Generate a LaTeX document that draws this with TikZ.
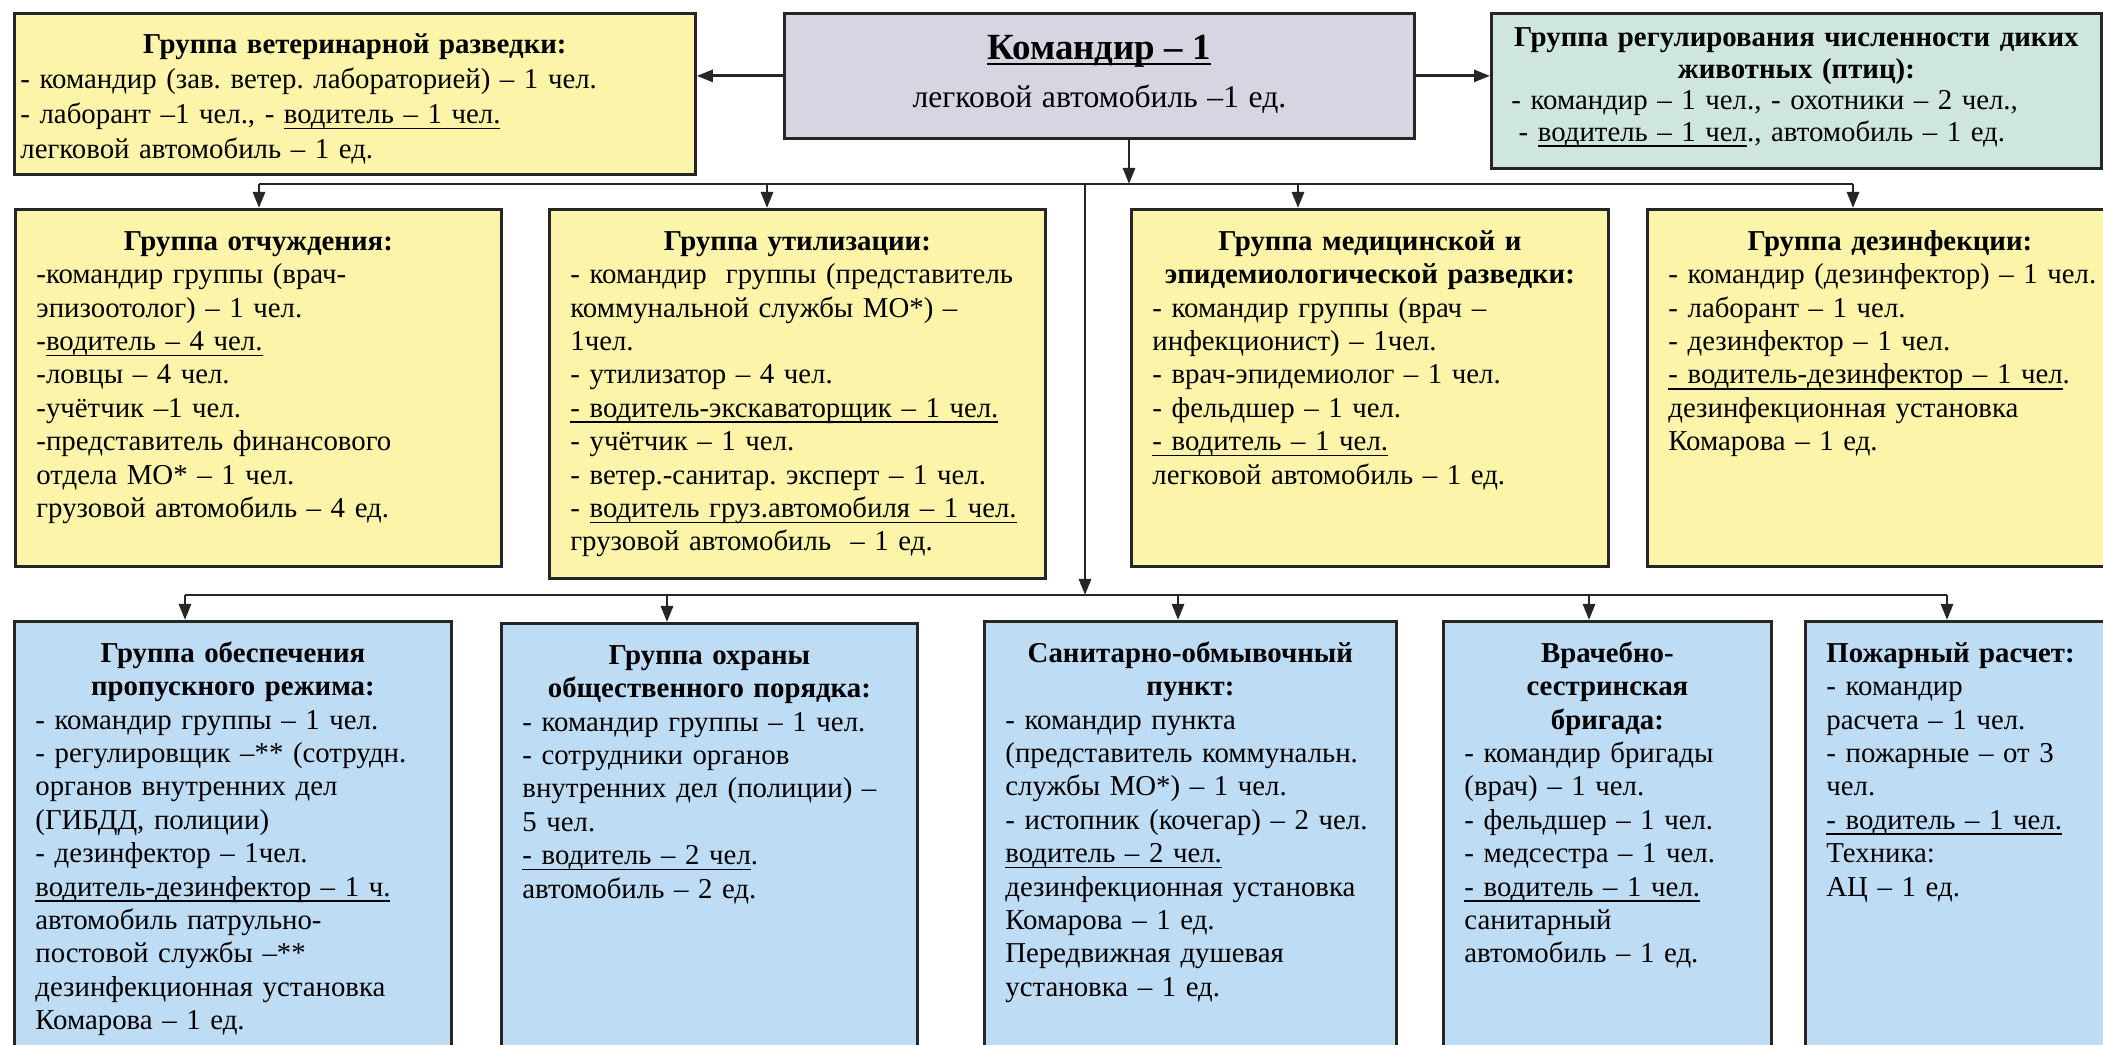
\documentclass[tikz,border=0pt]{standalone}
\usepackage{fontspec}
\setmainfont{Liberation Serif}
\usepackage{tikz}
\usetikzlibrary{arrows.meta,positioning}
\definecolor{grpyellow}{HTML}{FCF4A9}
\definecolor{grpblue}{HTML}{BEDCF4}
\definecolor{grpgray}{HTML}{D8D5E3}
\definecolor{grpgreen}{HTML}{CEE6DB}
\definecolor{grpline}{HTML}{262626}
\newcommand{\grptitle}[1]{{\centering\bfseries #1\par}}
\newcommand{\uln}[1]{\leavevmode\setbox0\hbox{#1}\rlap{\rule[-1.6pt]{\wd0}{0.45pt}}\box0}
\frenchspacing

\begin{document}
\begin{tikzpicture}[x=0.1mm,y=-0.1mm,
  grp/.style={rectangle,draw=grpline,line width=0.8pt,anchor=north west,
    inner xsep=2.1mm,inner ysep=0pt,text height=4.1mm,align=left,
    font=\fontsize{8.2}{9.5}\selectfont},
  yel/.style={grp,fill=grpyellow,text depth=31.6mm},
  blu/.style={grp,fill=grpblue,text depth=40mm},
  arr/.style={-{Triangle[length=1.6mm,width=1.2mm]},line width=0.8pt,color=grpline},
  bus/.style={line width=0.8pt,color=grpline}
]
  \useasboundingbox (0,0) rectangle (2103,1045);

  % top row
  \node[yel,inner xsep=0.6mm,text width=66.9mm,text height=4.0mm,text depth=12.1mm,
    font=\fontsize{8.2}{10}\selectfont] (vet) at (13,12) {\grptitle{Группа ветеринарной разведки:}
    - командир (зав. ветер. лабораторией) – 1 чел.\\
    - лаборант –1 чел., - \uln{водитель – 1 чел.}\\
    легковой автомобиль – 1 ед.};
  \node[grp,fill=grpgray,align=center,inner xsep=1mm,text width=61mm,
    text height=4.6mm,text depth=7.9mm] (cmd) at (783,12)
    {{\fontsize{10.5}{12}\selectfont\bfseries\uln{Командир – 1}}\\[1.5mm]
    {\fontsize{9}{10}\selectfont легковой автомобиль –1 ед.}};
  \node[grp,fill=grpgreen,inner xsep=2mm,text width=57mm,text height=3.3mm,
    text depth=12.2mm,font=\fontsize{8.2}{9}\selectfont] (wild) at (1490,12)
    {\grptitle{Группа регулирования численности диких\\животных (птиц):}
    - командир – 1 чел., - охотники – 2 чел.,\\
    \hspace*{0.25em}- \uln{водитель – 1 чел}., автомобиль – 1 ед.};

  % second row
  \node[yel,text width=44.4mm] (otch) at (14,208) {\grptitle{Группа отчуждения:}
    -командир группы (врач-\\
    эпизоотолог) – 1 чел.\\
    -\uln{водитель – 4 чел.}\\
    -ловцы – 4 чел.\\
    -учётчик –1 чел.\\
    -представитель финансового\\
    отдела МО* – 1 чел.\\
    грузовой автомобиль – 4 ед.};
  \node[yel,text width=45.4mm,text depth=32.8mm] (util) at (548,208) {\grptitle{Группа утилизации:}
    - командир\ \ группы (представитель\\
    коммунальной службы МО*) –\\
    1чел.\\
    - утилизатор – 4 чел.\\
    \uln{- водитель-экскаваторщик – 1 чел.}\\
    - учётчик – 1 чел.\\
    - ветер.-санитар. эксперт – 1 чел.\\
    - \uln{водитель груз.автомобиля – 1 чел.}\\
    грузовой автомобиль\ \ – 1 ед.};
  \node[yel,text width=43.5mm] (med) at (1130,208) {\grptitle{Группа медицинской и\\эпидемиологической разведки:}
    - командир группы (врач –\\
    инфекционист) – 1чел.\\
    - врач-эпидемиолог – 1 чел.\\
    - фельдшер – 1 чел.\\
    \uln{- водитель – 1 чел.}\\
    легковой автомобиль – 1 ед.};
  \node[yel,text width=44.3mm] (dis) at (1646,208) {\grptitle{Группа дезинфекции:}
    - командир (дезинфектор) – 1 чел.\\
    - лаборант – 1 чел.\\
    - дезинфектор – 1 чел.\\
    \uln{- водитель-дезинфектор – 1 чел}.\\
    дезинфекционная установка\\
    Комарова – 1 ед.};

  % third row
  \node[blu,text width=39.5mm] (prop) at (13,620) {\grptitle{Группа обеспечения\\пропускного режима:}
    - командир группы – 1 чел.\\
    - регулировщик –** (сотрудн.\\
    органов внутренних дел\\
    (ГИБДД, полиции)\\
    - дезинфектор – 1чел.\\
    \uln{водитель-дезинфектор – 1 ч.}\\
    автомобиль патрульно-\\
    постовой службы –**\\
    дезинфекционная установка\\
    Комарова – 1 ед.};
  \node[blu,text width=37.4mm] (okhr) at (500,622) {\grptitle{Группа охраны\\общественного порядка:}
    - командир группы – 1 чел.\\
    - сотрудники органов\\
    внутренних дел (полиции) –\\
    5 чел.\\
    \uln{- водитель – 2 чел}.\\
    автомобиль – 2 ед.};
  \node[blu,text width=37mm] (san) at (983,620) {\grptitle{Санитарно-обмывочный\\пункт:}
    - командир пункта\\
    (представитель коммунальн.\\
    службы МО*) – 1 чел.\\
    - истопник (кочегар) – 2 чел.\\
    \uln{водитель – 2 чел.}\\
    дезинфекционная установка\\
    Комарова – 1 ед.\\
    Передвижная душевая\\
    установка – 1 ед.};
  \node[blu,text width=28.6mm] (vrach) at (1442,620) {\grptitle{Врачебно-\\сестринская\\бригада:}
    - командир бригады\\
    (врач) – 1 чел.\\
    - фельдшер – 1 чел.\\
    - медсестра – 1 чел.\\
    \uln{- водитель – 1 чел.}\\
    санитарный\\
    автомобиль – 1 ед.};
  \node[blu,text width=28.3mm] (fire) at (1804,620) {{\bfseries Пожарный расчет:}\\
    - командир\\
    расчета – 1 чел.\\
    - пожарные – от 3\\
    чел.\\
    \uln{- водитель – 1 чел.}\\
    Техника:\\
    АЦ – 1 ед.};

  % connectors
  \coordinate (top) at (1129,184);
  \coordinate (mid) at (1085,184);
  \coordinate (low) at (1085,595);
  \coordinate (a1) at (259,184);
  \coordinate (a2) at (767,184);
  \coordinate (a3) at (1298,184);
  \coordinate (a4) at (1853,184);
  \coordinate (c1) at (185,595);
  \coordinate (c2) at (667,595);
  \coordinate (c3) at (1178,595);
  \coordinate (c4) at (1589,595);
  \coordinate (c5) at (1947,595);

  \draw[arr] (cmd.west) -- (cmd.west -| vet.east);
  \draw[arr] (cmd.east) -- (cmd.east -| wild.west);
  \draw[arr] (cmd.south -| top) -- (top);
  \draw[bus] (a1) -- (a4);
  \foreach \c/\n in {a1/otch,a2/util,a3/med,a4/dis}
    \draw[arr] (\c) -- (\c |- \n.north);
  \draw[arr] (mid) -- (low);
  \draw[bus] (c1) -- (c5);
  \foreach \c/\n in {c1/prop,c2/okhr,c3/san,c4/vrach,c5/fire}
    \draw[arr] (\c) -- (\c |- \n.north);
\end{tikzpicture}
\end{document}
